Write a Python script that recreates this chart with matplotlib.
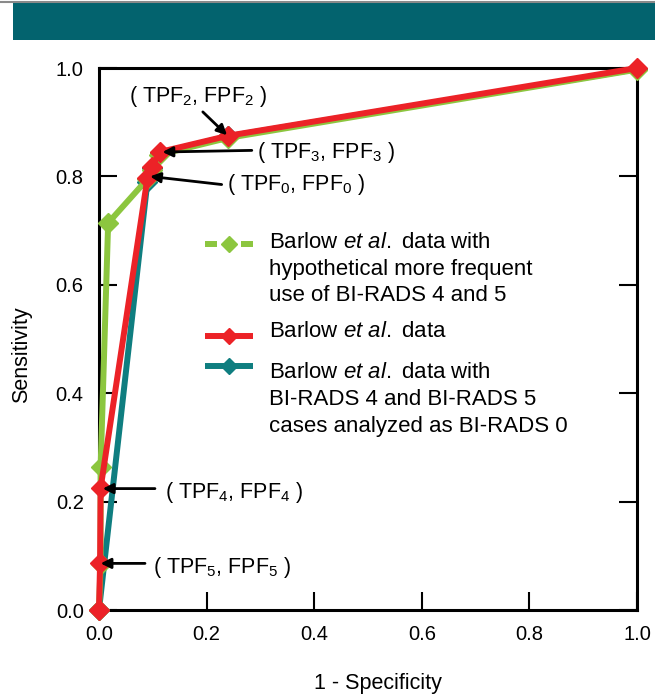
import numpy as np
import matplotlib.pyplot as plt
from matplotlib.patches import Rectangle
from matplotlib.lines import Line2D

plt.rcParams['font.family'] = ['Liberation Sans', 'DejaVu Sans']
plt.rcParams['mathtext.fontset'] = 'custom'
plt.rcParams['mathtext.rm'] = 'Liberation Sans'
plt.rcParams['mathtext.it'] = 'Liberation Sans:italic'

##### DATA #####
# 1 - specificity (FPF) and sensitivity (TPF)
green_x = [0.0, 0.003, 0.003, 0.017, 0.090, 0.098, 0.112, 0.240, 1.0]
green_y = [0.0, 0.085, 0.264, 0.714, 0.795, 0.812, 0.840, 0.871, 0.997]

red_x = [0.0, 0.002, 0.003, 0.090, 0.098, 0.113, 0.240, 1.0]
red_y = [0.0, 0.087, 0.225, 0.797, 0.817, 0.845, 0.875, 1.0]

teal_x = [0.0, 0.090, 0.098, 0.113, 0.240, 1.0]
teal_y = [0.0, 0.790, 0.815, 0.843, 0.874, 0.998]

ticks = [0.0, 0.2, 0.4, 0.6, 0.8, 1.0]

legend_labels = [
    ['Barlow $\\it{et\\ al.}$ data with', 'hypothetical more frequent',
     'use of BI-RADS 4 and 5'],
    ['Barlow $\\it{et\\ al.}$ data'],
    ['Barlow $\\it{et\\ al.}$ data with', 'BI-RADS 4 and BI-RADS 5',
     'cases analyzed as BI-RADS 0'],
]

# point labels: text, arrow tip, arrow tail, text anchor (left, baseline)
point_labels = ['( TPF$_2$, FPF$_2$ )', '( TPF$_3$, FPF$_3$ )', '( TPF$_0$, FPF$_0$ )',
                '( TPF$_4$, FPF$_4$ )', '( TPF$_5$, FPF$_5$ )']
arrow_tip = [(0.238, 0.876), (0.118, 0.845), (0.095, 0.800), (0.007, 0.224), (0.003, 0.086)]
arrow_tail = [(0.193, 0.919), (0.284, 0.848), (0.228, 0.785), (0.104, 0.224), (0.0855, 0.086)]
text_pos = [(0.056, 0.937), (0.293, 0.8345), (0.238, 0.775), (0.1227, 0.207), (0.0996, 0.0677)]

c_green = '#8cc63f'
c_red = '#ec2227'
c_teal = '#0f7e80'
LW = 4.3
MS = 10

fig = plt.figure(figsize=(6.55, 6.96), dpi=100)

# banner
fig.patches.append(Rectangle((13 / 655, 1 - 40 / 696), 1 - 13 / 655, 37 / 696,
                             transform=fig.transFigure, facecolor='#03636e',
                             edgecolor='none'))
fig.lines.append(Line2D([0, 1], [1 - 2 / 696, 1 - 2 / 696], transform=fig.transFigure,
                        color='#8a8a8a', lw=1.5))

ax = fig.add_axes([99 / 655, 1 - 610 / 696, 538 / 655, 542 / 696])

ax.plot(teal_x, teal_y, color=c_teal, lw=LW, marker='D', ms=MS, mec=c_teal, zorder=3,
        clip_on=False)
ax.plot(green_x, green_y, color=c_green, lw=LW, marker='D', ms=MS, mec=c_green, zorder=4,
        clip_on=False)
ax.plot(red_x, red_y, color=c_red, lw=LW, marker='D', ms=MS, mec=c_red, zorder=5,
        clip_on=False)

ax.set_xlim(0, 1)
ax.set_ylim(0, 1)
ax.set_xticks(ticks)
ax.set_yticks(ticks)
ax.set_xticklabels([f'{v:.1f}' for v in ticks])
ax.set_yticklabels([f'{v:.1f}' for v in ticks])
ax.tick_params(direction='in', length=13, width=1.5, labelsize=14.5, pad=11,
               right=True, top=False)
for s in ax.spines.values():
    s.set_linewidth(2.2)

ax.set_xlabel('1 - Specificity', fontsize=15.5, va='center')
ax.xaxis.set_label_coords(0.519, -0.1365)
ax.set_ylabel('Sensitivity', fontsize=15.5, va='center')
ax.yaxis.set_label_coords(-0.144, 0.471)

# point labels with arrows
arr = dict(arrowstyle='-|>', color='black', lw=2, mutation_scale=15, shrinkA=0, shrinkB=0)
for lab, tip, tail, pos in zip(point_labels, arrow_tip, arrow_tail, text_pos):
    ax.annotate('', xy=tip, xytext=tail, arrowprops=arr, zorder=6)
    ax.text(pos[0], pos[1], lab, fontsize=15.5, ha='left', va='baseline')

# legend drawn by hand so the keys sit on the first text line
tr = ax.transAxes
hx0, hx1, hxm = 0.197, 0.286, 0.2416
dash = 0.0223
line_step = 0.0494
leg_key_y = [0.6756, 0.5063, 0.4496]
leg_text_y = [0.668, 0.5037, 0.428]

y = leg_key_y[0]
ax.plot([hx0, hx0 + dash], [y, y], color=c_green, lw=LW, transform=tr, clip_on=False,
        solid_capstyle='butt')
ax.plot([hx1 - dash, hx1], [y, y], color=c_green, lw=LW, transform=tr, clip_on=False,
        solid_capstyle='butt')
ax.plot([hxm], [y], color=c_green, marker='D', ms=MS * 0.85, transform=tr, clip_on=False)
for y, c in zip(leg_key_y[1:], [c_red, c_teal]):
    ax.plot([hx0, hxm, hx1], [y, y, y], color=c, lw=LW, marker='D', ms=MS * 0.85,
            markevery=[1], transform=tr, clip_on=False, solid_capstyle='butt')
for lines, y0 in zip(legend_labels, leg_text_y):
    for i, line in enumerate(lines):
        ax.text(0.316, y0 - i * line_step, line, transform=tr, fontsize=16,
                ha='left', va='baseline')

plt.savefig('out.png', dpi=100)
